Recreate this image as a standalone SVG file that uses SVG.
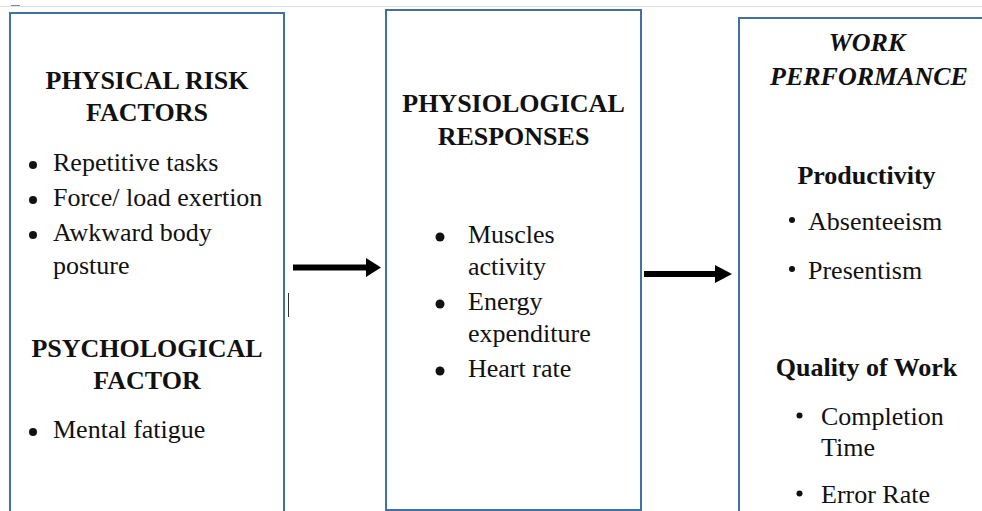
<svg xmlns="http://www.w3.org/2000/svg" width="982" height="511" viewBox="0 0 982 511">
<style>
.box{fill:#fff;stroke:#41719C;stroke-width:2}
.h{font-family:"Liberation Serif","Times New Roman",serif;font-size:26px;font-weight:bold;fill:#111;text-anchor:middle}
.hi{font-style:italic}
.t{font-family:"Liberation Serif","Times New Roman",serif;font-size:26px;fill:#111}
.b{fill:#111}
.arr{fill:#000}
</style>
<rect x="0" y="0" width="982" height="511" fill="#fff"/>
<line x1="0" y1="6.5" x2="982" y2="6.5" stroke="#e2e2e2" stroke-width="1"/>
<line x1="11" y1="5.5" x2="20" y2="5.5" stroke="#888" stroke-width="1"/>

<g id="node-physical">
<rect class="box" x="10" y="13" width="274" height="510"/>
<text class="h" x="147" y="89">PHYSICAL RISK</text>
<text class="h" x="147" y="121">FACTORS</text>
<circle class="b" cx="33" cy="165" r="4"/>
<text class="t" x="53" y="171">Repetitive tasks</text>
<circle class="b" cx="33" cy="200" r="4"/>
<text class="t" x="53" y="206">Force/ load exertion</text>
<circle class="b" cx="33" cy="235" r="4"/>
<text class="t" x="53" y="241">Awkward body</text>
<text class="t" x="53" y="274">posture</text>
<text class="h" x="147" y="357">PSYCHOLOGICAL</text>
<text class="h" x="147" y="389">FACTOR</text>
<circle class="b" cx="33" cy="432" r="4"/>
<text class="t" x="53" y="438">Mental fatigue</text>
</g>

<g id="node-physiological">
<rect class="box" x="386" y="10" width="255" height="500"/>
<text class="h" x="513.5" y="112">PHYSIOLOGICAL</text>
<text class="h" x="513.5" y="145">RESPONSES</text>
<circle class="b" cx="440" cy="237" r="4.5"/>
<text class="t" x="468" y="243">Muscles</text>
<text class="t" x="468" y="275">activity</text>
<circle class="b" cx="440" cy="304" r="4.5"/>
<text class="t" x="468" y="310">Energy</text>
<text class="t" x="468" y="342">expenditure</text>
<circle class="b" cx="440" cy="371" r="4.5"/>
<text class="t" x="468" y="377">Heart rate</text>
</g>

<g id="node-work">
<rect class="box" x="739" y="18" width="260" height="510"/>
<text class="h hi" x="867" y="51">WORK</text>
<text class="h hi" x="869" y="85">PERFORMANCE</text>
<text class="h" x="866.5" y="184">Productivity</text>
<circle class="b" cx="792" cy="220" r="3"/>
<text class="t" x="808" y="230">Absenteeism</text>
<circle class="b" cx="792" cy="269" r="3"/>
<text class="t" x="808" y="279">Presentism</text>
<text class="h" x="866.5" y="376">Quality of Work</text>
<circle class="b" cx="799.5" cy="415.5" r="3"/>
<text class="t" x="821" y="425">Completion</text>
<text class="t" x="821" y="456">Time</text>
<circle class="b" cx="799.5" cy="493.5" r="3"/>
<text class="t" x="821" y="503">Error Rate</text>
</g>

<g id="connectors">
<path class="arr" d="M293,264.5 H366 V258 L381,267.5 L366,277 V270.5 H293 Z"/>
<path class="arr" d="M644,271 H715 V265 L732,274 L715,283 V277 H644 Z"/>
<line x1="288.5" y1="293" x2="288.5" y2="317" stroke="#333" stroke-width="1"/>
</g>
</svg>
